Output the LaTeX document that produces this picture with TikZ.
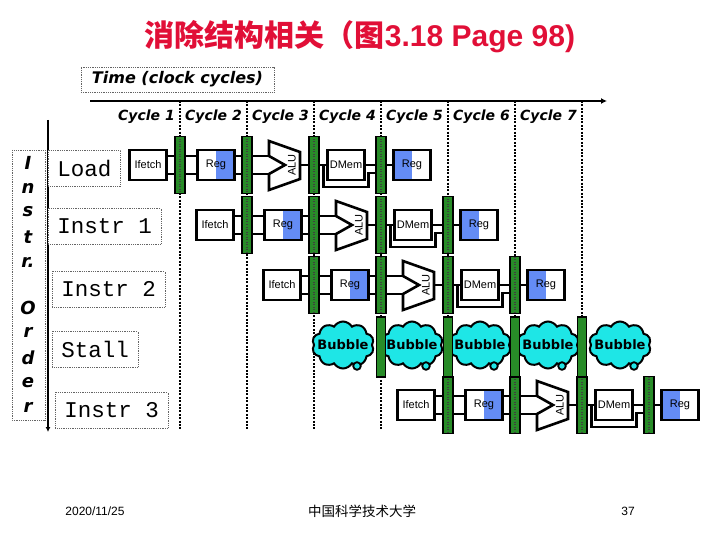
\documentclass[tikz,border=0pt]{standalone}
\usepackage{fontspec}
\usepackage{tikz}
\usetikzlibrary{arrows.meta,positioning,calc,shapes.symbols}
\setmainfont{Liberation Sans}
\setsansfont{Liberation Sans}
\setmonofont{Liberation Mono}
\newfontfamily\cjkfont{Noto Sans CJK SC}
\newfontfamily\comicfont{DejaVu Sans}
\definecolor{TitleRed}{RGB}{225,15,55}
\definecolor{RegBlue}{RGB}{100,140,245}
\definecolor{BarGreen}{RGB}{40,140,40}
\definecolor{BubbleCyan}{RGB}{30,230,230}
\definecolor{DotGray}{RGB}{100,100,100}
\tikzset{
  wire/.style={line width=2.5pt},
  stagebox/.style={draw, line width=2.6pt, fill=white, minimum width=37pt, minimum height=30pt, inner sep=0pt, font=\fontsize{11}{11}\selectfont},
  rdreg/.style={stagebox, path picture={\fill[RegBlue] (path picture bounding box.north) rectangle (path picture bounding box.south east);}},
  wbreg/.style={stagebox, path picture={\fill[RegBlue] (path picture bounding box.north west) rectangle (path picture bounding box.south);}},
  alushape/.style={draw, line width=2.6pt, fill=white, line join=miter},
  pipebar/.style={draw, line width=1.4pt, fill=BarGreen, minimum width=10pt, minimum height=57pt, inner sep=0pt,
    path picture={\draw[black!75, line width=1.2pt, dash pattern=on 1pt off 1.5pt] (path picture bounding box.north) -- (path picture bounding box.south);}},
  stallbar/.style={draw, line width=1.4pt, fill=BarGreen, minimum width=9pt, minimum height=60pt, inner sep=0pt},
  bubble/.style={cloud, cloud puffs=10, cloud puff arc=120, cloud ignores aspect, draw, line width=2pt, fill=BubbleCyan, minimum width=62pt, minimum height=47pt, inner sep=0pt},
  cycletext/.style={font=\comicfont\bfseries\itshape\fontsize{14}{14}\selectfont},
  dotbox/.style={draw=DotGray, densely dotted, line width=0.8pt, fill=white},
  instrlabel/.style={dotbox, anchor=north west, minimum height=36pt, inner xsep=9pt, font=\ttfamily\fontsize{22.5}{22.5}\selectfont},
  clockline/.style={line width=2.4pt, dash pattern=on 2pt off 1.4pt}
}
\begin{document}
\begin{tikzpicture}[x=1pt, y=-1pt]
  \useasboundingbox (0,0) rectangle (720,540);
  \node[font=\bfseries\fontsize{30}{30}\selectfont, text=TitleRed] (title) at (360,37) {{\cjkfont 消除结构相关（图}3.18 Page 98)};
  \node[dotbox, font=\comicfont\bfseries\itshape\fontsize{16}{16}\selectfont, minimum height=25pt, inner xsep=11pt] (time) at (177.5,79.5) {Time (clock cycles)};
  % clock axis
  \coordinate (t0) at (90,101); \coordinate (t1) at (607,101);
  \draw[line width=2.8pt, -{Latex[length=6pt,width=6pt]}] (t0) -- (t1);
  \foreach \k in {1,...,7}{
    \coordinate (ck\k) at (113+67*\k,101);
    \draw[clockline] (ck\k) -- ++(0,329);
    \node[cycletext] (cy\k) at (79.5+67*\k,117) {Cycle \k};
  }
  % instruction order
  \coordinate (o0) at (48,120); \coordinate (o1) at (48,432);
  \draw[line width=2pt, -{Latex[length=5pt,width=5pt]}] (o0) -- (o1);
  \draw[dotbox] (12,150) rectangle (45,420);
  \foreach \ch/\yy [count=\i] in {I/163,n/188,s/212,t/237,r./262,O/308,r/332,d/358,e/383,r/407}
    \node[font=\comicfont\bfseries\itshape\fontsize{18}{18}\selectfont] (ord\i) at (28,\yy) {\ch};
  \node[instrlabel] (load) at (48,150) {Load};
  \node[instrlabel] (ins1) at (48,208) {Instr 1};
  \node[instrlabel] (ins2) at (52,271) {Instr 2};
  \node[instrlabel] (stall) at (52,331) {Stall};
  \node[instrlabel] (ins3) at (55,392) {Instr 3};
  % pipeline rows
  \foreach \rw/\st/\yy in {a/1/165,b/2/225,c/3/285,e/5/405}{
    \pgfmathsetmacro\xl{46+67*\st}
    \coordinate (alu\rw) at (\xl+171,\yy);
    \coordinate (alui\rw) at (\xl+156,\yy);
    \coordinate (aluo\rw) at (\xl+187,\yy);
    \node[stagebox] (if\rw) at (\xl+35,\yy) {Ifetch};
    \node[rdreg] (rd\rw) at (\xl+103,\yy) {Reg};
    \node[stagebox] (dm\rw) at (\xl+233,\yy) {DMem};
    \node[wbreg] (wb\rw) at (\xl+299,\yy) {Reg};
    \foreach \k in {1,...,4}
      \node[pipebar] (bar\rw\k) at (\xl+67*\k,\yy) {};
    \draw[alushape] (alu\rw) ++(-15,-24) -- ++(31,11) -- ++(0,27) -- ++(-31,11) -- ++(0,-16) -- ++(16,-9) -- ++(-16,-9) -- cycle;
    \node[rotate=90, font=\fontsize{11}{11}\selectfont] (alut\rw) at ([xshift=8pt]alu\rw) {ALU};
    \foreach \d in {-9,9}{
      \draw[wire] ([yshift=\d pt]if\rw.east) -- ([yshift=\d pt]bar\rw1.west);
      \draw[wire] ([yshift=\d pt]bar\rw1.east) -- ([yshift=\d pt]rd\rw.west);
      \draw[wire] ([yshift=\d pt]rd\rw.east) -- ([yshift=\d pt]bar\rw2.west);
      \draw[wire] ([yshift=\d pt]bar\rw2.east) -- ([yshift=\d pt]alui\rw);
    }
    \draw[wire] (aluo\rw) -- (bar\rw3.west);
    \draw[wire] (bar\rw3.east) -- (dm\rw.west);
    \draw[wire] (dm\rw.east) -- (bar\rw4.west);
    \draw[wire] (bar\rw4.east) -- (wb\rw.west);
    \draw[wire] ([xshift=4pt]bar\rw3.east) |- ([xshift=-7pt,yshift=-22pt]bar\rw4.west) -- ([xshift=-7pt,yshift=-8pt]bar\rw4.west) -- ([yshift=-8pt]bar\rw4.west);
  }
  % stall row
  \foreach \xx [count=\i] in {343,412,480,548,620}{
    \node[bubble] (bub\i) at (\xx,345) {};
    \node[font=\comicfont\bfseries\fontsize{13}{13}\selectfont] (bubt\i) at (bub\i) {Bubble};
    \draw[line width=1.8pt, fill=BubbleCyan] ([xshift=14pt,yshift=-21pt]bub\i.center) circle (3.8pt);
  }
  \foreach \k in {1,...,4}
    \node[stallbar] (sbar\k) at (314+67*\k,347) {};
  % footer
  \node[font=\fontsize{12}{12}\selectfont] (date) at (95,511) {2020/11/25};
  \node[font=\cjkfont\fontsize{13.5}{13.5}\selectfont] (school) at (362,511) {中国科学技术大学};
  \node[font=\fontsize{12}{12}\selectfont] (page) at (628,511) {37};
\end{tikzpicture}
\end{document}
